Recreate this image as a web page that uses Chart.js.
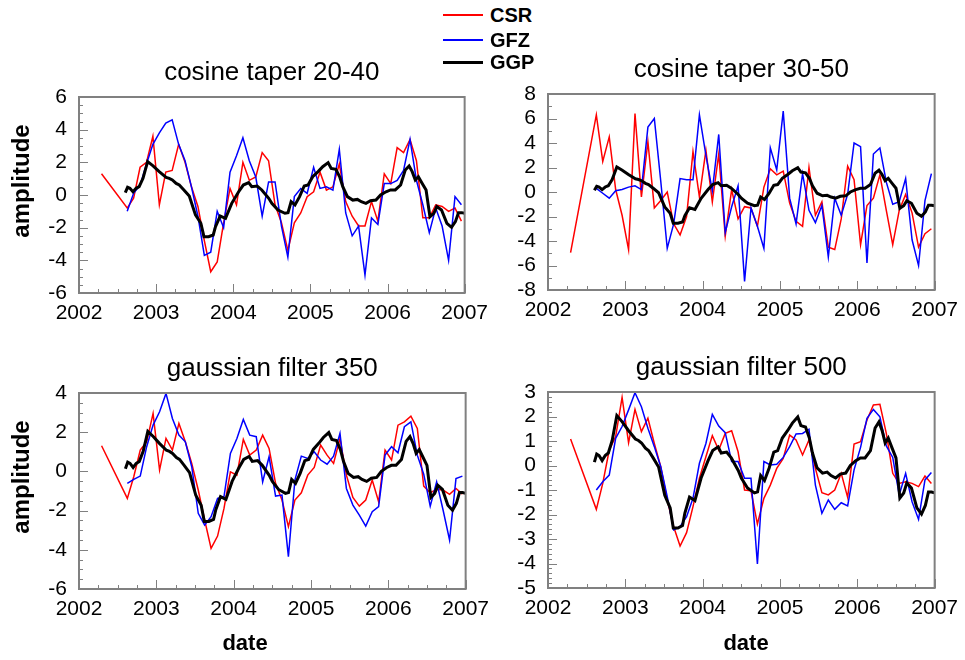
<!DOCTYPE html>
<html>
<head>
<meta charset="utf-8">
<script src="https://cdn.jsdelivr.net/npm/chart.js@4.4.0/dist/chart.umd.min.js"></script>
<style>
  body { margin: 0; background: #fff; font-family: "Liberation Sans", Arial, sans-serif; }
  #wrap { position: relative; width: 965px; height: 660px; overflow: hidden; }
  canvas { position: absolute; }
  .lbl { position: absolute; font-weight: bold; color: #000; white-space: nowrap; }
  .rot { transform: translate(-50%, -50%) rotate(-90deg); }
  .ctr { transform: translate(-50%, -50%); }
  .key { position: absolute; left: 443px; width: 40px; }
  .keytxt { position: absolute; left: 490px; font-weight: bold; font-size: 20px; transform: translateY(-50%); }
</style>
</head>
<body>
<div id="wrap">
  <canvas id="c1" width="496" height="293" style="left:0;top:40px"></canvas>
  <canvas id="c2" width="466" height="293" style="left:500px;top:37px"></canvas>
  <canvas id="c3" width="497" height="325" style="left:0;top:335px"></canvas>
  <canvas id="c4" width="466" height="325" style="left:500px;top:335px"></canvas>

  <div class="key" style="top:14px;height:2px;background:#ff0000"></div>
  <div class="keytxt" style="top:15px">CSR</div>
  <div class="key" style="top:39px;height:2px;background:#0000ff"></div>
  <div class="keytxt" style="top:40px">GFZ</div>
  <div class="key" style="top:61px;height:3px;background:#000"></div>
  <div class="keytxt" style="top:62px">GGP</div>

  <div class="lbl rot" style="left:21px;top:181px;font-size:24px">amplitude</div>
  <div class="lbl rot" style="left:21px;top:477px;font-size:24px">amplitude</div>
  <div class="lbl ctr" style="left:245px;top:643px;font-size:22px">date</div>
  <div class="lbl ctr" style="left:746px;top:643px;font-size:22px">date</div>
</div>
<script>
// ===== data (decimal years) =====
const yearTicks = [2002, 2003, 2004, 2005, 2006, 2007];

// monthly solutions: Apr 2002, then Aug 2002 .. Dec 2006
const months = [2002.292,
  2002.625, 2002.708, 2002.792, 2002.875, 2002.958,
  2003.042, 2003.125, 2003.208, 2003.292, 2003.375, 2003.458, 2003.542, 2003.625, 2003.708, 2003.792, 2003.875, 2003.958,
  2004.042, 2004.125, 2004.208, 2004.292, 2004.375, 2004.458, 2004.542, 2004.625, 2004.708, 2004.792, 2004.875, 2004.958,
  2005.042, 2005.125, 2005.208, 2005.292, 2005.375, 2005.458, 2005.542, 2005.625, 2005.708, 2005.792, 2005.875, 2005.958,
  2006.042, 2006.125, 2006.208, 2006.292, 2006.375, 2006.458, 2006.542, 2006.625, 2006.708, 2006.792, 2006.875, 2006.958];

// cosine taper 20-40
const csrTaper2040 = [1.3, -0.8, -0.2, 1.7, 2.0, 3.6, -0.6, 1.4, 1.5, 3.1, 2.0, 0.5, -0.7, -2.8, -4.7, -4.1, -1.7, 0.4,
  -0.6, 2.0, 0.9, 1.1, 2.6, 2.1, -0.6, -1.7, -3.4, -1.7, -1.1, -0.1, 0.2, 1.4, 0.3, 0.5, 1.9, -0.4, -1.3, -1.9, -1.9, -0.4,
  -1.6, 1.3, 0.7, 2.9, 2.6, 3.4, 2.1, -1.4, -1.4, -0.6, -0.7, -1.0, -0.8, -1.6];
const gfzTaper2040 = [null, -1.0, 0.1, 0.6, 1.9, 3.1, 3.8, 4.4, 4.6, 3.1, 2.1, 0.5, -1.3, -3.7, -3.5, -1.0, -2.0, 1.4,
  2.4, 3.5, 2.1, 1.1, -1.3, 0.8, 0.8, -1.9, -3.8, -0.1, 0.4, 0.1, 1.7, 0.4, 0.5, 0.3, 2.8, -1.1, -2.5, -1.9, -4.9, -1.4,
  -1.8, 0.7, 0.7, 0.9, 1.5, 3.4, 0.9, -0.6, -2.3, -0.8, -1.9, -4.0, -0.1, -0.6];

// cosine taper 30-50
const csrTaper3050 = [-4.95, 6.3, 2.5, 4.5, 0.2, -1.9, -4.7, 6.4, -0.4, 4.1, -1.3, -0.7, 0.0, -2.6, -3.5, -2.0, 3.3, -0.4,
  3.4, -0.8, 3.1, -3.6, 0.2, -2.2, -1.2, -1.3, -2.8, 0.4, 1.9, 1.4, 1.7, -0.9, -2.4, -2.8, 2.0, -1.9, -0.8, -4.5, -4.7, -2.2,
  2.1, 1.0, -4.3, -1.1, -0.5, 1.4, -1.5, -4.3, -1.5, -0.2, -1.7, -4.5, -3.4, -3.0];
const gfzTaper3050 = [null, 0.3, -0.1, -0.5, 0.1, 0.2, 0.4, 0.5, 0.2, 5.3, 6.0, 0.9, -4.6, -2.6, 1.1, 1.0, 1.0, 6.3,
  3.0, 0.1, 4.7, -3.3, -1.2, 0.5, -7.3, -1.3, -2.8, -4.6, 3.6, 1.8, 6.6, -0.5, -2.6, 1.5, -1.5, -2.5, -1.1, -5.3, -0.5, -1.9,
  -0.2, 4.0, 3.7, -5.8, 3.1, 3.6, 0.8, -1.0, -0.8, 1.1, -3.9, -6.0, -0.7, 1.5];

// gaussian filter 350
const csrGauss350 = [1.31, -1.38, -0.27, 1.09, 1.51, 2.96, 0.07, 1.68, 1.09, 2.45, 1.51, 0.41, -0.95, -2.48, -3.93, -3.30,
  -1.89, -0.02, -0.19, 1.63, 0.83, 1.09, 1.85, 1.17, -0.61, -1.46, -2.82, -1.46, -1.09, -0.19, 0.20, 1.34, 0.83, 0.41, 1.68,
  -0.19, -1.33, -1.77, -1.46, -0.44, -1.55, 1.09, 0.58, 2.36, 2.53, 2.82, 2.19, -0.75, -1.09, -0.92, -0.95, -1.17, -0.87, -1.16];
const gfzGauss350 = [null, -0.61, -0.41, -0.24, 1.26, 2.36, 3.04, 3.98, 2.70, 1.85, 1.51, 0.24, -2.14, -2.74, -2.31, -1.38,
  -1.29, 0.92, 1.68, 2.65, 1.85, 1.77, -0.53, 0.75, -1.26, -1.21, -4.35, -0.44, 0.78, 0.66, 1.00, 0.58, 0.37, 0.78, 1.94,
  -0.87, -1.72, -2.23, -2.79, -2.06, -1.80, 0.83, 1.26, 0.95, 2.28, 2.53, 0.83, -0.14, -1.77, -0.53, -1.97, -3.50, -0.37, -0.24];

// gaussian filter 500
const csrGauss500 = [1.08, -1.79, -0.73, 0.63, 1.18, 2.78, 0.93, 2.29, 1.38, 1.93, 0.90, -0.05, -1.41, -2.50, -3.29, -2.74,
  -1.68, -0.52, 0.36, 1.22, 0.63, 1.31, 1.42, 0.56, -1.00, -1.03, -2.39, -1.34, -0.80, -0.12, 0.29, 1.24, 1.04, 0.43, 1.04,
  -0.12, -1.11, -1.20, -1.00, -0.32, -1.30, 0.88, 0.97, 1.86, 2.47, 2.50, 1.31, -0.32, -0.73, -0.66, -0.73, -0.86, -0.43, -0.73];
const gfzGauss500 = [null, -1.00, -0.66, -0.39, 1.11, 1.59, 2.27, 2.97, 2.40, 1.52, 0.77, -0.05, -1.27, -2.63, -2.50, -2.09,
  -1.34, 0.09, 0.90, 2.09, 1.61, 1.34, 0.16, 0.16, -0.52, -0.52, -4.02, 0.16, 0.02, 0.05, 0.33, 0.77, 1.29, 1.31, 1.48,
  -0.80, -1.95, -1.41, -1.79, -1.52, -1.65, -0.18, 0.74, 1.93, 2.29, 1.99, 0.80, 0.33, -1.20, -0.32, -1.48, -2.20, -0.59, -0.29];

// GGP (same series in every panel)
const ggpDates = [2002.60, 2002.63, 2002.66, 2002.70, 2002.74, 2002.78, 2002.83, 2002.89, 2002.96, 2003.04, 2003.13,
  2003.17, 2003.21, 2003.26, 2003.30, 2003.36, 2003.43, 2003.51, 2003.58, 2003.62, 2003.68, 2003.74, 2003.77, 2003.83,
  2003.90, 2003.98, 2004.07, 2004.13, 2004.20, 2004.24, 2004.31, 2004.37, 2004.46, 2004.50, 2004.58, 2004.67, 2004.71,
  2004.75, 2004.80, 2004.86, 2004.92, 2004.97, 2005.03, 2005.10, 2005.16, 2005.23, 2005.27, 2005.33, 2005.38, 2005.42,
  2005.48, 2005.55, 2005.61, 2005.66, 2005.72, 2005.78, 2005.85, 2005.91, 2005.98, 2006.04, 2006.10, 2006.17, 2006.23,
  2006.28, 2006.32, 2006.36, 2006.40, 2006.45, 2006.50, 2006.55, 2006.60, 2006.64, 2006.70, 2006.77, 2006.83, 2006.88,
  2006.92, 2006.96, 2007.00];
const ggpValues = [0.14, 0.47, 0.41, 0.20, 0.41, 0.51, 1.02, 2.04, 1.78, 1.43, 1.08,
  1.02, 0.92, 0.71, 0.61, 0.31, -0.06, -1.22, -1.73, -2.55, -2.55, -2.45, -1.94, -1.29,
  -1.43, -0.51, 0.20, 0.61, 0.76, 0.51, 0.55, 0.31, -0.20, -0.51, -0.92, -1.12, -1.08,
  -0.41, -0.61, -0.10, 0.55, 0.61, 1.12, 1.43, 1.73, 1.98, 1.63, 1.57, 1.12, 0.51,
  -0.10, -0.31, -0.27, -0.41, -0.51, -0.35, -0.31, 0.00, 0.20, 0.31, 0.31, 0.61, 1.53,
  1.78, 1.43, 0.92, 1.12, 0.71, 0.31, -1.33, -1.12, -0.71, -0.92, -1.73, -1.98, -1.63,
  -1.08, -1.08, -1.12];

const FONT = "'Liberation Sans', Arial, sans-serif";

// frame box + inward major/minor tick marks
const frameTicks = {
  id: "frameTicks",
  afterDatasetsDraw(chart, args, opts) {
    const ctx = chart.ctx;
    const a = chart.chartArea;
    const x = chart.scales.x;
    const y = chart.scales.y;
    ctx.save();
    ctx.strokeStyle = "#808080";
    ctx.lineWidth = 1;
    ctx.beginPath();
    for (let i = 0; x.min + i * 0.25 <= x.max + 1e-6; i++) {
      const px = Math.round(x.getPixelForValue(x.min + i * 0.25)) + 0.5;
      const len = i % 4 === 0 ? 9 : 4;
      ctx.moveTo(px, a.bottom);
      ctx.lineTo(px, a.bottom - len);
    }
    const per = Math.round(opts.major / opts.minor);
    for (let i = 0; y.min + i * opts.minor <= y.max + 1e-6; i++) {
      const py = Math.round(y.getPixelForValue(y.min + i * opts.minor)) + 0.5;
      const len = i % per === 0 ? 9 : 4;
      ctx.moveTo(a.left, py);
      ctx.lineTo(a.left + len, py);
    }
    ctx.stroke();
    ctx.lineWidth = 2;
    ctx.strokeRect(a.left, a.top, a.right - a.left, a.bottom - a.top);
    ctx.restore();
  }
};

function pairs(xs, ys) {
  return xs.map((v, i) => ({ x: v, y: ys[i] }));
}

function makePanel(id, title, csr, gfz, yMin, yMax, yMajor, yMinor, axisW, bottomH, padTop, padBottom) {
  new Chart(document.getElementById(id), {
    type: "line",
    data: {
      datasets: [
        { label: "GGP", data: pairs(ggpDates, ggpValues), borderColor: "#000000", borderWidth: 3, order: 0 },
        { label: "GFZ", data: pairs(months, gfz), borderColor: "#0000ff", borderWidth: 1.5, order: 1 },
        { label: "CSR", data: pairs(months, csr), borderColor: "#ff0000", borderWidth: 1.5, order: 2 }
      ]
    },
    options: {
      responsive: false,
      animation: false,
      elements: { point: { radius: 0 }, line: { tension: 0 } },
      layout: { padding: { right: 28 } },
      plugins: {
        legend: { display: false },
        tooltip: { enabled: false },
        title: {
          display: true, text: title, fullSize: false, color: "#000",
          font: { family: FONT, size: 26, weight: "normal", lineHeight: "30px" },
          padding: { top: padTop, bottom: padBottom }
        },
        frameTicks: { major: yMajor, minor: yMinor }
      },
      scales: {
        x: {
          type: "linear", min: 2002, max: 2007,
          afterBuildTicks: s => { s.ticks = yearTicks.map(v => ({ value: v })); },
          afterFit: s => { s.height = bottomH; },
          grid: { display: false, drawTicks: false },
          border: { display: false },
          ticks: { padding: 8, color: "#000", maxRotation: 0, autoSkip: false,
                   font: { family: FONT, size: 21 }, callback: v => String(v) }
        },
        y: {
          min: yMin, max: yMax,
          afterFit: s => { s.width = axisW; },
          grid: { display: false, drawTicks: false },
          border: { display: false },
          ticks: { stepSize: yMajor, autoSkip: false, padding: 12, color: "#000",
                   font: { family: FONT, size: 21 } }
        }
      }
    },
    plugins: [frameTicks]
  });
}

makePanel("c1", "cosine taper 20-40", csrTaper2040, gfzTaper2040, -6, 6, 2, 0.5, 79, 40, 18, 9);
makePanel("c2", "cosine taper 30-50", csrTaper3050, gfzTaper3050, -8, 8, 2, 1, 48, 40, 18, 9);
makePanel("c3", "gaussian filter 350", csrGauss350, gfzGauss350, -6, 4, 2, 0.5, 79, 71, 19, 9);
makePanel("c4", "gaussian filter 500", csrGauss500, gfzGauss500, -5, 3, 1, 0.2, 48, 72, 18, 9);
</script>
</body>
</html>
